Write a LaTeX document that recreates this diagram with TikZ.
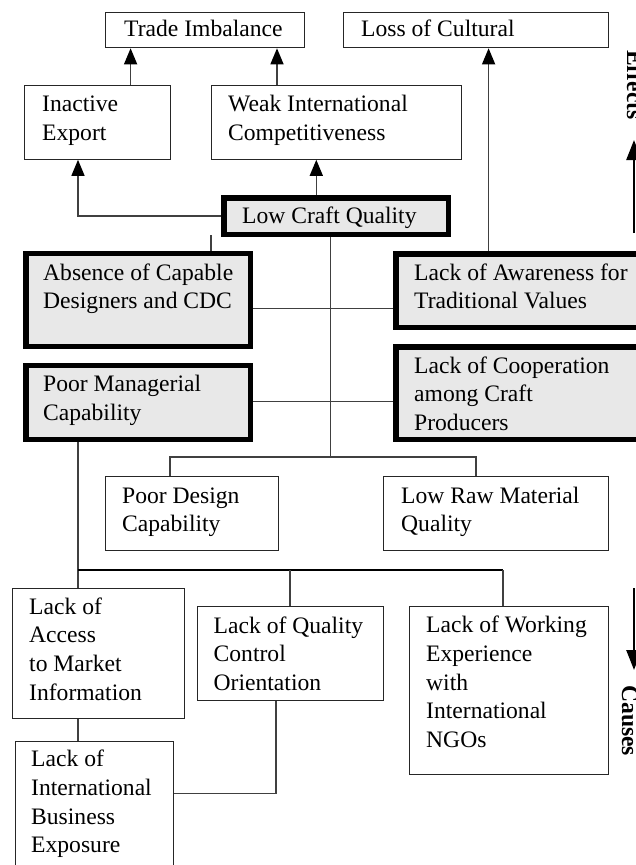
\documentclass[tikz,border=0pt]{standalone}
\usepackage{fontspec}
\setmainfont{Liberation Serif}
\usetikzlibrary{arrows.meta}
% left-aligned multi-line text whose baseline is the first line
\newcommand\tb[1]{\begin{tabular}[t]{@{}l@{}}#1\end{tabular}}
\definecolor{boxgray}{RGB}{232,232,232}

\begin{document}
\begin{tikzpicture}[x=1pt,y=-1pt,
  thinbox/.style={draw=black!85, line width=1.3pt, fill=white, anchor=north west, inner sep=0pt},
  thickbox/.style={draw=black, line width=5.5pt, fill=boxgray, anchor=north west, inner sep=0pt},
  txt/.style={anchor=base west, inner sep=0pt, font=\fontsize{23.6}{28.7}\selectfont},
  link/.style={draw=black!75, line width=1.4pt},
  bus/.style={draw=black, line width=2.4pt},
  arr/.style={link, -{Triangle[length=16pt,width=13pt,color=black]}},
  sidearr/.style={draw=black, line width=2.5pt, -{Triangle[length=20pt,width=15pt]}},
  sidelabel/.style={rotate=-90, anchor=base west, inner sep=0pt, font=\bfseries\fontsize{23.6}{28.7}\selectfont}]

\useasboundingbox (0,0) rectangle (636,865);
\clip (0,0) rectangle (636,865);

% ---- effect boxes
\node[thinbox, minimum width=199pt, minimum height=35.5pt] (trade) at (104.5,11.5) {};
\node[txt] (trade-t) at (124,36.7) {Trade Imbalance};
\node[thinbox, minimum width=265pt, minimum height=35.5pt] (loss) at (342.5,11.5) {};
\node[txt] (loss-t) at (361,36.7) {Loss of Cultural};
\node[thinbox, minimum width=145.5pt, minimum height=74pt] (inact) at (24,84.5) {};
\node[txt] (inact-t) at (42,111.7) {\tb{Inactive\\Export}};
\node[thinbox, minimum width=250.5pt, minimum height=74pt] (weak) at (210.5,84.5) {};
\node[txt] (weak-t) at (228,111.7) {\tb{Weak International\\Competitiveness}};

% ---- core problem and main causes
\node[thickbox, minimum width=224.5pt, minimum height=36.8pt] (lcq) at (221,195) {};
\node[txt] (lcq-t) at (242,223) {Low Craft Quality};
\node[thickbox, minimum width=224.5pt, minimum height=92.8pt] (absence) at (23,250.7) {};
\node[txt] (absence-t) at (43,280) {\tb{Absence of Capable\\Designers and CDC}};
\node[thickbox, minimum width=260pt, minimum height=73.5pt] (lawa) at (393,251) {};
\node[txt] (lawa-t) at (414,280) {\tb{Lack of Awareness for\\Traditional Values}};
\node[thickbox, minimum width=224.5pt, minimum height=73.8pt] (pman) at (23,362.7) {};
\node[txt] (pman-t) at (43,391.7) {\tb{Poor Managerial\\Capability}};
\node[thickbox, minimum width=260pt, minimum height=92.5pt] (lcoop) at (393,344) {};
\node[txt] (lcoop-t) at (414,373) {\tb{Lack of Cooperation\\among Craft\\Producers}};

% ---- secondary causes
\node[thinbox, minimum width=173pt, minimum height=74.5pt] (pdes) at (104.5,475.5) {};
\node[txt] (pdes-t) at (122,503) {\tb{Poor Design\\Capability}};
\node[thinbox, minimum width=225pt, minimum height=74.5pt] (lraw) at (382.5,475.5) {};
\node[txt] (lraw-t) at (401,503) {\tb{Low Raw Material\\Quality}};
\node[thinbox, minimum width=172pt, minimum height=130.5pt] (laccess) at (12,587.5) {};
\node[txt] (laccess-t) at (29,614) {\tb{Lack of\\Access\\to Market\\Information}};
\node[thinbox, minimum width=186.5pt, minimum height=93.5pt] (lqual) at (196.5,606) {};
\node[txt] (lqual-t) at (213.5,633) {\tb{Lack of Quality\\Control\\Orientation}};
\node[thinbox, minimum width=199.5pt, minimum height=167.5pt] (lwork) at (408.5,606) {};
\node[txt] (lwork-t) at (426,632.7) {\tb{Lack of Working\\Experience\\with\\International\\NGOs}};
\node[thinbox, minimum width=158.5pt, minimum height=140pt] (lintl) at (14.5,741) {};
\node[txt] (lintl-t) at (31,766.7) {\tb{Lack of\\International\\Business\\Exposure}};

% ---- routing positions
\coordinate (xa) at (130.6,0);
\coordinate (xb) at (277,0);
\coordinate (xc) at (488.6,0);
\coordinate (xd) at (78,0);
\coordinate (xe) at (316.3,0);
\coordinate (stubtop) at (211,235);
\coordinate (hub) at (330.5,457.3);
\coordinate (xh) at (170.3,0);
\coordinate (xi) at (475.7,0);
\coordinate (ya) at (0,308.3);
\coordinate (yb) at (0,401.7);
\coordinate (b2) at (78,570);
\coordinate (xj) at (290,0);
\coordinate (xk) at (502.8,0);
\coordinate (xm) at (276,0);
\coordinate (yc) at (0,793.3);

% ---- connectors
\draw[arr] (inact.north -| xa) -- (trade.south -| xa);
\draw[arr] (weak.north -| xb) -- (trade.south -| xb);
\draw[arr] (lawa.north -| xc) -- (loss.south -| xc);
\draw[arr] (lcq.west) -| (inact.south -| xd);
\draw[arr] (lcq.north -| xe) -- (weak.south -| xe);
\draw[link] (absence.north -| stubtop) -- (stubtop);
\draw[link] (lcq.south -| hub) -- (hub);
\draw[link, line width=1.8pt] (pdes.north -| xh) |- (hub) -| (lraw.north -| xi);
\draw[link] (absence.east |- ya) -- (lawa.west |- ya);
\draw[link] (pman.east |- yb) -- (lcoop.west |- yb);
\draw[link] (pman.south -| xd) -- (laccess.north -| xd);
\draw[bus] (b2) -- (b2 -| xk);
\draw[link] (b2 -| xj) -- (lqual.north -| xj);
\draw[link] (b2 -| xk) -- (lwork.north -| xk);
\draw[link] (laccess.south -| xd) -- (lintl.north -| xd);
\draw[link] (lqual.south -| xm) |- (lintl.east |- yc);

% ---- direction markers on the right edge
\coordinate (effbot) at (634,233);
\coordinate (efftop) at (634,140);
\draw[sidearr] (effbot) -- (efftop);
\node[sidelabel] (effects) at (627,50) {Effects};
\coordinate (caustop) at (634,588);
\coordinate (causbot) at (634,670);
\draw[sidearr] (caustop) -- (causbot);
\node[sidelabel] (causes) at (622,685) {Causes};
\end{tikzpicture}
\end{document}
